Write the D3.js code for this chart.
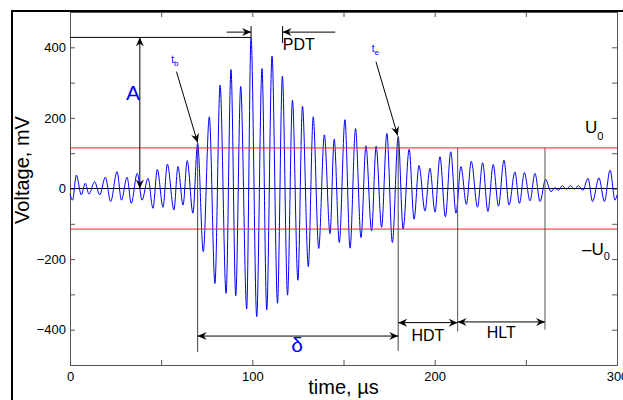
<!DOCTYPE html>
<html>
<head>
<meta charset="utf-8">
<script src="https://cdnjs.cloudflare.com/ajax/libs/d3/7.8.5/d3.min.js"></script>
<style>
  body { margin: 0; background: #fff; }
  svg { display: block; font-family: "Liberation Sans", Arial, sans-serif; }
</style>
</head>
<body>
<svg width="623" height="400"></svg>
<script>
// extrema of the waveform (time in us, voltage in mV)
var times = [0, 1.4, 3.5, 6.2, 8.4, 10.4, 13.5, 16.3, 19.4, 22.3, 25.8, 28.2, 31.3, 33.6, 36.9, 39.5,
  42.8, 45.5, 47.9, 51.0, 53.4, 57.0, 59.2, 62.0, 64.3, 67.4, 70.0, 73.1, 76.4, 79.5, 82.3, 85.6,
  88.3, 90.9, 93.6, 96.9, 99.3, 102.4, 105.3, 107.9, 110.8, 113.8, 116.5, 119.3, 122.0, 125.0,
  127.5, 130.7, 133.4, 136.4, 139.5, 142.6, 144.9, 147.7, 150.8, 153.6, 156.6, 159.6, 162.3,
  165.4, 167.9, 170.9, 173.8, 176.8, 180.0, 182.7, 186.0, 188.7, 191.4, 194.7, 197.4, 200.2,
  202.9, 205.9, 208.8, 211.7, 214.4, 217.4, 220.1, 223.5, 226.3, 229.2, 232.1, 235.0, 238.0,
  240.8, 244.0, 246.5, 249.2, 252.3, 255.0, 257.8, 260.8, 263.8, 266.0, 267.9, 270.0, 272.3,
  274.5, 276.7, 278.8, 281.3, 284.1, 286.6, 290.1, 293.1, 296.2, 298.9, 300];
var volts = [-15, -33, 38, -18, 15, -16, 19, -18, 32, -37, 48, -33, 32, -42, 43, -33,
  29, -56, 54, -53, 69, -61, 62, -47, 79, -70, 128, -179, 203, -269, 293, -297,
  337, -304, 289, -341, 428, -363, 340, -344, 375, -325, 318, -302, 250, -260,
  233, -221, 203, -170, 152, -128, 140, -153, 195, -169, 170, -139, 121,
  -120, 120, -110, 156, -153, 147, -115, 111, -87, 65, -64, 57, -67,
  90, -80, 104, -70, 62, -45, 77, -53, 73, -65, 68, -50, 80,
  -47, 47, -42, 45, -35, 43, -37, 26, -9, 2, -5, 8, -2,
  8, -2, 8, -5, 29, -37, 30, -37, 52, -33, -18];

var xTicks = [0, 50, 100, 150, 200, 250, 300];
var yTicks = [-500, -400, -300, -200, -100, 0, 100, 200, 300, 400, 500];

// characteristic times and levels
var tb = 70, te = 180, tHdt = 212.6, tHlt = 260.5;
var u0 = 115, amp = 428, tPeak = 99.3, tPdt = 116.6;

var svg = d3.select("svg");
var x = d3.scaleLinear().domain([0, 300]).range([70, 617]);
var y = d3.scaleLinear().domain([-500, 500]).range([365, 12]);

// figure frame
svg.append("rect")
    .attr("x", 12).attr("y", 11).attr("width", 700).attr("height", 500)
    .attr("fill", "none").attr("stroke", "#000").attr("stroke-width", 2);

var defs = svg.append("defs");
defs.append("marker")
    .attr("id", "head")
    .attr("viewBox", "-10 -5 12 10")
    .attr("refX", 0).attr("refY", 0)
    .attr("markerWidth", 12).attr("markerHeight", 10)
    .attr("markerUnits", "userSpaceOnUse")
    .attr("orient", "auto-start-reverse")
  .append("path")
    .attr("d", "M0,0L-9,-4L-6,0L-9,4Z")
    .attr("fill", "#000");

// axes, ticks inward
svg.append("g")
    .attr("transform", "translate(0,365)")
    .call(d3.axisBottom(x).tickValues(xTicks).tickSizeInner(-5).tickSizeOuter(0).tickPadding(7)
      .tickFormat(function(d) { return d % 100 === 0 ? d : ""; }));
svg.append("g")
    .attr("transform", "translate(0,12)")
    .call(d3.axisTop(x).tickValues(xTicks).tickSizeInner(-5).tickSizeOuter(0).tickFormat(""));
svg.append("g")
    .attr("transform", "translate(70,0)")
    .call(d3.axisLeft(y).tickValues(yTicks).tickSizeInner(-5).tickSizeOuter(0).tickPadding(4)
      .tickFormat(function(d) { return (d % 200 === 0 && Math.abs(d) < 500) ? d3.format("d")(d).replace("-", "\u2212") : ""; }));
svg.append("g")
    .attr("transform", "translate(617,0)")
    .call(d3.axisRight(y).tickValues(yTicks).tickSizeInner(-5).tickSizeOuter(0).tickFormat(""));

svg.selectAll(".domain").attr("stroke", "#555");
svg.selectAll(".tick line").attr("stroke", "#555");
svg.selectAll(".tick text").attr("font-size", 13).attr("font-family", "Liberation Sans, Arial, sans-serif").attr("fill", "#000");

// zero line and thresholds
svg.append("line")
    .attr("x1", x(0)).attr("x2", x(300)).attr("y1", y(0)).attr("y2", y(0))
    .attr("stroke", "#000").attr("stroke-width", 1);

// signal
var pts = times.map(function(t, i) { return [t, volts[i]]; });
var line = d3.line()
    .x(function(d) { return x(d[0]); })
    .y(function(d) { return y(d[1]); })
    .curve(d3.curveMonotoneX);
svg.append("path")
    .datum(pts)
    .attr("d", line)
    .attr("fill", "none")
    .attr("stroke", "#0000ff")
    .attr("stroke-width", 1);

[u0, -u0].forEach(function(v) {
  svg.append("line")
      .attr("x1", x(0)).attr("x2", x(300)).attr("y1", y(v)).attr("y2", y(v))
      .attr("stroke", "#ff2020").attr("stroke-width", 1);
});

function seg(x1, y1, x2, y2, color, arrowStart, arrowEnd) {
  var l = svg.append("line")
      .attr("x1", x1).attr("y1", y1).attr("x2", x2).attr("y2", y2)
      .attr("stroke", color || "#000").attr("stroke-width", 1);
  if (arrowStart) l.attr("marker-start", "url(#head)");
  if (arrowEnd) l.attr("marker-end", "url(#head)");
  return l;
}

// vertical guide lines
seg(x(tb), y(128), x(tb), y(-463), "#444");
seg(x(te), y(147), x(te), y(-460), "#444");
seg(x(tHdt), y(u0), x(tHdt), y(-405), "#555");
seg(x(tHlt), y(u0), x(tHlt), y(-400), "#555");

// amplitude A
seg(x(0), y(amp), x(tPeak), y(amp), "#000");
seg(x(38.3), y(amp), x(38.3), y(0), "#000", true, true);
svg.append("text").attr("x", x(34.5)).attr("y", y(250))
    .attr("font-size", 21).attr("fill", "#0000ff").attr("text-anchor", "middle").text("A");

// PDT
seg(x(tPeak), y(460), x(tPeak), y(amp), "#000");
seg(x(86), y(443), x(tPeak), y(443), "#000", false, true);
seg(x(tPdt), y(460), x(tPdt), y(412), "#000");
seg(x(145.5), y(443), x(tPdt), y(443), "#000", false, true);
svg.append("text").attr("x", x(125.5)).attr("y", y(393))
    .attr("font-size", 16).attr("text-anchor", "middle").text("PDT");

// tb and te pointers
seg(x(58.4), y(331), x(70), y(130), "#000", false, true);
var tbl = svg.append("text").attr("x", x(55.5)).attr("y", y(355))
    .attr("font-size", 10).attr("fill", "#0000ff");
tbl.append("tspan").text("t");
tbl.append("tspan").attr("dy", 3).attr("font-size", 8).text("b");
seg(x(167.8), y(359), x(179.7), y(150), "#000", false, true);
var tel = svg.append("text").attr("x", x(165.5)).attr("y", y(387))
    .attr("font-size", 10).attr("fill", "#0000ff");
tel.append("tspan").text("t");
tel.append("tspan").attr("dy", 3).attr("font-size", 8).text("e");

// duration, HDT, HLT
seg(x(tb), y(-418), x(te), y(-418), "#000", true, true);
svg.append("text").attr("x", x(124.5)).attr("y", y(-463))
    .attr("font-size", 21).attr("fill", "#0000ff").attr("text-anchor", "middle").text("\u03b4");
seg(x(te), y(-380), x(tHdt), y(-380), "#000", true, true);
svg.append("text").attr("x", x(196.3)).attr("y", y(-432))
    .attr("font-size", 16).attr("text-anchor", "middle").text("HDT");
seg(x(tHdt), y(-378), x(tHlt), y(-378), "#000", true, true);
svg.append("text").attr("x", x(236.5)).attr("y", y(-424))
    .attr("font-size", 16).attr("text-anchor", "middle").text("HLT");

// threshold labels
var ul = svg.append("text").attr("x", 585).attr("y", 133).attr("font-size", 17);
ul.append("tspan").text("U");
ul.append("tspan").attr("dy", 7).attr("font-size", 11).text("0");
var ml = svg.append("text").attr("x", 582).attr("y", 255).attr("font-size", 17);
ml.append("tspan").text("\u2013U");
ml.append("tspan").attr("dy", 5).attr("font-size", 11).text("0");

// axis titles
svg.append("text")
    .attr("x", x(150)).attr("y", 394)
    .attr("font-size", 20).attr("text-anchor", "middle")
    .text("time, \u00b5s");
svg.append("text")
    .attr("transform", "translate(29,170) rotate(-90)")
    .attr("font-size", 20).attr("text-anchor", "middle")
    .text("Voltage, mV");
</script>
</body>
</html>
